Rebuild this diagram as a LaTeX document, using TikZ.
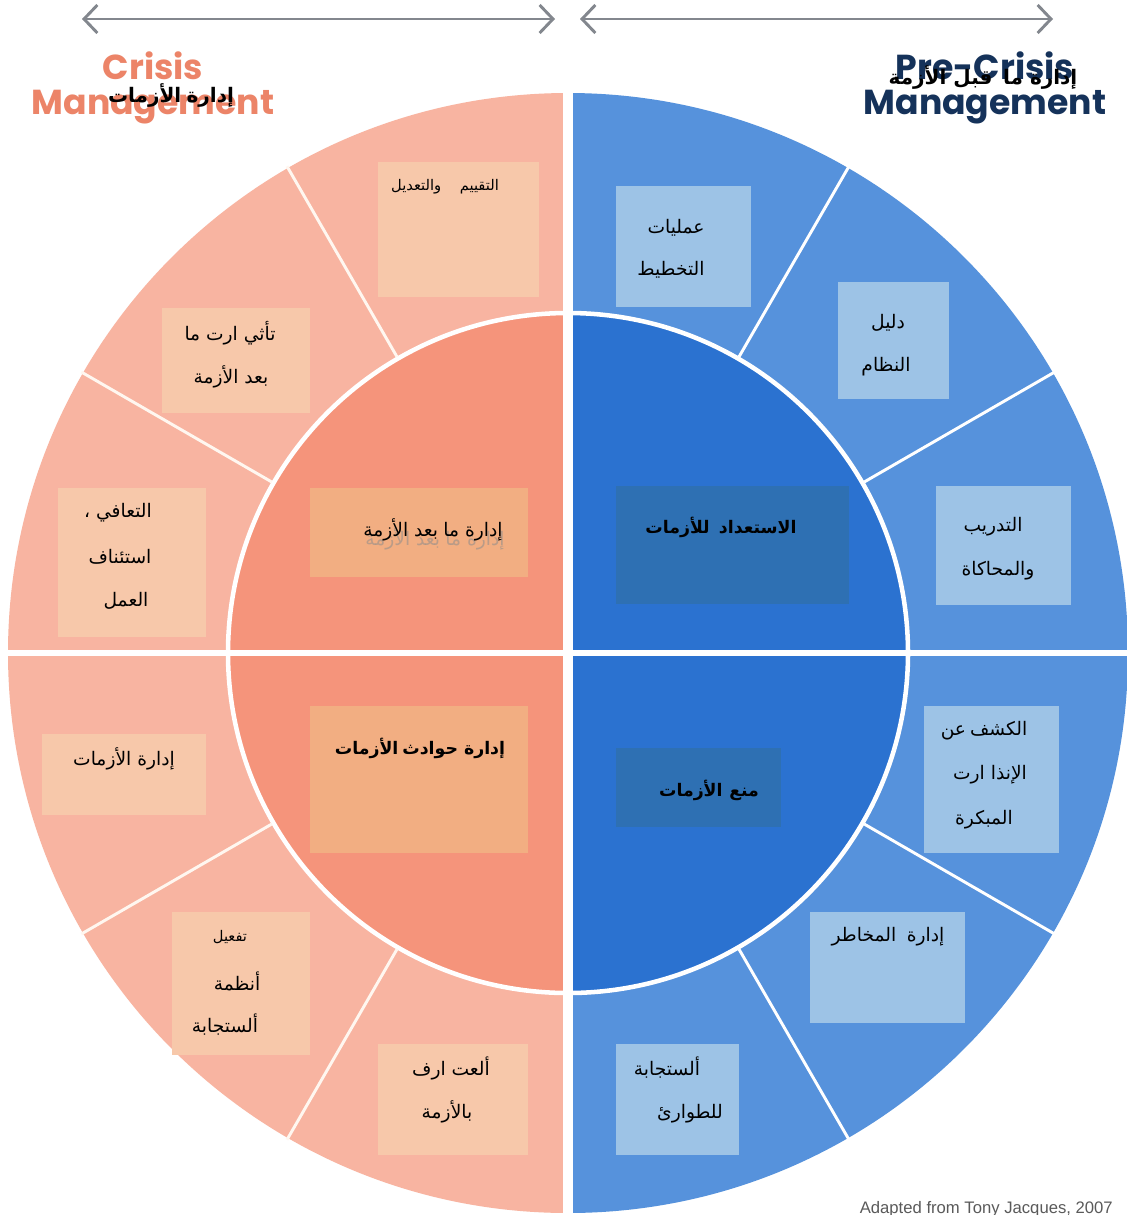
\documentclass[tikz,border=0pt]{standalone}
\usepackage{fontspec}
\setmainfont{Liberation Sans}
\newfontfamily\arabicfont[Script=Arabic]{DejaVu Sans}
\newfontfamily\headfont{Poppins}
\TeXXeTstate=1
\usetikzlibrary{arrows.meta}
\newcommand\AR[1]{\beginR #1\endR}
\definecolor{outerL}{HTML}{F8B4A1}
\definecolor{innerL}{HTML}{F5947B}
\definecolor{boxL}{HTML}{F7C8AA}
\definecolor{iboxL}{HTML}{F2AE82}
\definecolor{outerR}{HTML}{5692DC}
\definecolor{innerR}{HTML}{2B72D0}
\definecolor{boxR}{HTML}{9DC3E6}
\definecolor{iboxR}{HTML}{2E70B3}
\definecolor{headL}{HTML}{EC8468}
\definecolor{headR}{HTML}{15325A}
\definecolor{arrgray}{HTML}{83878E}
\definecolor{footgray}{HTML}{5A5A5A}
\tikzset{
  ar/.style={font=\arabicfont\fontsize{14}{16}\selectfont, inner sep=0pt, text=black},
  arsm/.style={font=\arabicfont\fontsize{11}{13}\selectfont, inner sep=0pt, text=black},
  arb/.style={font=\arabicfont\bfseries\fontsize{13}{15}\selectfont, inner sep=0pt, text=black},
  arh/.style={font=\arabicfont\bfseries\fontsize{15}{17}\selectfont, inner sep=0pt, text=black},
  head/.style={font=\headfont\bfseries\fontsize{26}{28}\selectfont, inner sep=0pt},
  dbl/.style={arrgray, line width=2.2pt, {Straight Barb[length=10pt,width=21pt]}-{Straight Barb[length=10pt,width=21pt]}},
  sep/.style={line width=2.2pt},
}
\begin{document}
\begin{tikzpicture}[x=0.75pt,y=-0.75pt]
\useasboundingbox (0,0) rectangle (1127,1215);
\fill[white] (0,0) rectangle (1127,1215);
\coordinate (O) at (568,653);
% halves
\fill[outerL] (O) -- ++(90:560) arc[start angle=90,end angle=270,radius=560] -- cycle;
\fill[outerR] (O) -- ++(-90:560) arc[start angle=-90,end angle=90,radius=560] -- cycle;
\fill[innerL] (O) -- ++(90:340) arc[start angle=90,end angle=270,radius=340] -- cycle;
\fill[innerR] (O) -- ++(-90:340) arc[start angle=-90,end angle=90,radius=340] -- cycle;
\draw[white, line width=3.4pt] (O) circle[radius=340];
\foreach \a in {120,150,210,240}
  \draw[sep, color=white!80!orange!30] ([shift={(\a:342)}]O) -- ([shift={(\a:562)}]O);
\foreach \a in {30,60,300,330}
  \draw[sep, white] ([shift={(\a:342)}]O) -- ([shift={(\a:562)}]O);
\fill[white] (563,80) rectangle (573,1215);
\fill[white] (0,650) rectangle (1127,656);

% boxes left
\fill[boxL] (378,162) rectangle (539,297);
\fill[boxL] (162,308) rectangle (310,413);
\fill[boxL] (58,488) rectangle (206,637);
\fill[iboxL] (310,488) rectangle (528,577);
\fill[boxL] (42,734) rectangle (206,815);
\fill[iboxL] (310,706) rectangle (528,853);
\fill[boxL] (172,912) rectangle (310,1055);
\fill[boxL] (378,1044) rectangle (528,1155);
% boxes right
\fill[boxR] (616,186) rectangle (751,307);
\fill[boxR] (838,282) rectangle (949,399);
\fill[boxR] (936,486) rectangle (1071,605);
\fill[iboxR] (616,486) rectangle (849,604);
\fill[boxR] (924,706) rectangle (1059,853);
\fill[iboxR] (616,748) rectangle (781,827);
\fill[boxR] (810,912) rectangle (965,1023);
\fill[boxR] (616,1044) rectangle (739,1155);

% texts left
\node[arsm] (l1) at (445,187) {\AR{التقييم\hspace{14pt}والتعديل}};
\node[ar] (l2a) at (230,333) {\AR{تأثي ارت ما}};
\node[ar] (l2b) at (231,377) {\AR{بعد الأزمة}};
\node[ar] (l3a) at (118,513) {\AR{التعافي ،}};
\node[ar] (l3b) at (120,557) {\AR{استئناف}};
\node[ar] (l3c) at (126,601) {\AR{العمل}};
\node[ar, text=black!45, opacity=0.55] (l4s) at (435,539) {\AR{إدارة ما\hspace{4pt}بعد الأزمة}};
\node[ar] (l4) at (433,530) {\AR{إدارة ما\hspace{4pt}بعد الأزمة}};
\node[ar] (l5) at (124,759) {\AR{إدارة الأزمات}};
\node[arb] (l6) at (420,748) {\AR{إدارة حوادث\hspace{3pt}الأزمات}};
\node[arsm] (l7a) at (230,937) {\AR{تفعيل}};
\node[ar] (l7b) at (237,981) {\AR{أنظمة}};
\node[ar] (l7c) at (225,1025) {\AR{ألستجابة}};
\node[ar] (l8a) at (451,1068) {\AR{ألعت ارف}};
\node[ar] (l8b) at (447,1112) {\AR{بالأزمة}};
% texts right
\node[ar] (r1a) at (676,228) {\AR{عمليات}};
\node[ar] (r1b) at (671,270) {\AR{التخطيط}};
\node[ar] (r2a) at (888,323) {\AR{دليل}};
\node[ar] (r2b) at (886,367) {\AR{النظام}};
\node[ar] (r3a) at (993,527) {\AR{التدريب}};
\node[ar] (r3b) at (998,571) {\AR{والمحاكاة}};
\node[arb] (r4) at (721,527) {\AR{الاستعداد\hspace{7pt}للأزمات}};
\node[ar] (r5a) at (984,731) {\AR{الكشف\hspace{3pt}عن}};
\node[ar] (r5b) at (990,775) {\AR{الإنذا ارت}};
\node[ar] (r5c) at (984,820) {\AR{المبكرة}};
\node[arb] (r6) at (709,790) {\AR{منع\hspace{5pt}الأزمات}};
\node[ar] (r7) at (888,937) {\AR{إدارة\hspace{8pt}المخاطر}};
\node[ar] (r8a) at (667,1068) {\AR{ألستجابة}};
\node[ar] (r8b) at (690,1114) {\AR{للطوارئ}};

% arrows
\coordinate (aL1) at (82,19);
\coordinate (aL2) at (555,19);
\coordinate (aR1) at (580,19);
\coordinate (aR2) at (1053,19);
\draw[dbl] (aL1) -- (aL2);
\draw[dbl] (aR1) -- (aR2);

% headings
\node[head, text=headL] (hl1) at (153,66) {Crisis};
\node[head, text=headL] (hl2) at (153,107) {Management};
\node[arh] (hla) at (171,95) {\AR{إدارة\hspace{4pt}الأزمات}};
\node[head, text=headR] (hr1) at (985,66) {Pre-Crisis};
\node[head, text=headR] (hr2) at (985,107) {Management};
\node[arh] (hra) at (983,77) {\AR{إدارة ما\hspace{8pt}قبل الأزمة}};

% footer
\node[anchor=base east, inner sep=0pt, font=\fontsize{12.5}{14}\selectfont, text=footgray] (src) at (1113,1213) {Adapted from Tony Jacques, 2007};
\end{tikzpicture}
\end{document}
